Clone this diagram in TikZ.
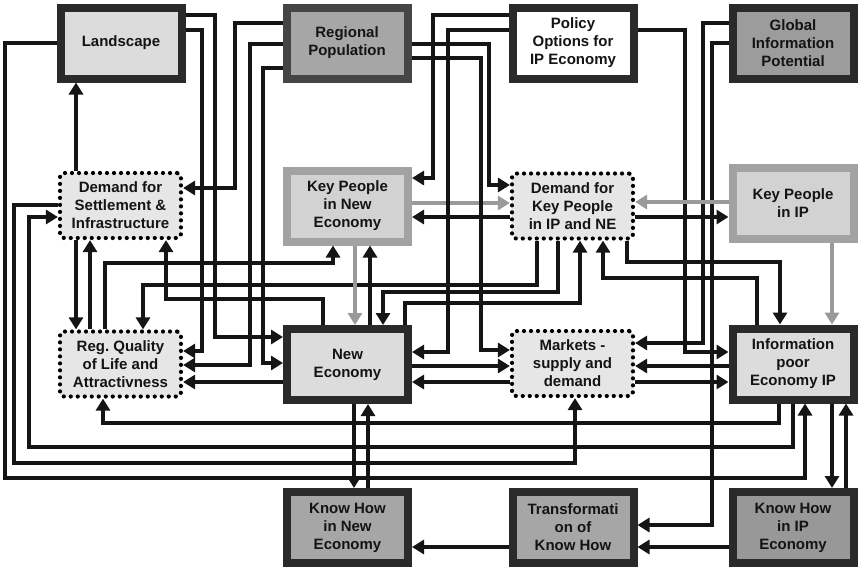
\documentclass[tikz,border=0pt]{standalone}
\usepackage{fontspec}
\setmainfont{Liberation Sans}
\usetikzlibrary{arrows.meta}
\definecolor{bdark}{HTML}{2A2A2A}
\definecolor{bpop}{HTML}{454545}
\definecolor{bkp}{HTML}{A2A2A2}
\definecolor{flight}{HTML}{DCDCDC}
\definecolor{fmid}{HTML}{A6A6A6}
\definecolor{fglob}{HTML}{9C9C9C}
\definecolor{fkh}{HTML}{989898}
\definecolor{fkp}{HTML}{D2D2D2}
\definecolor{fdot}{HTML}{E6E6E6}
\definecolor{lnk}{HTML}{151515}
\definecolor{glnk}{HTML}{9A9A9A}
\frenchspacing
\begin{document}
\begin{tikzpicture}[x=1pt,y={(0pt,-1pt)},
  txt/.style={align=center,font=\fontsize{15}{18}\selectfont\bfseries,text=black!92},
  solidbox/.style={txt,rectangle,draw=bdark,line width=8pt,minimum width=121pt,minimum height=71pt,inner sep=0pt},
  kpbox/.style={txt,rectangle,draw=bkp,fill=fkp,line width=8pt,minimum width=121pt,minimum height=71pt,inner sep=0pt},
  dotbox/.style={txt,rectangle,draw=black,fill=fdot,line width=4.2pt,dash pattern=on 0pt off 7pt,line cap=round,rounded corners=4pt,minimum width=121pt,minimum height=65pt,inner sep=0pt},
  arr/.style={draw=lnk,line width=3.4pt,-{Triangle[width=14pt,length=12pt]}},
  garr/.style={draw=glnk,line width=3.4pt,-{Triangle[width=14pt,length=12pt]}}]
\useasboundingbox (0,0) rectangle (859,571);
% nodes
\node[solidbox,fill=flight] (land) at (121,43) {Landscape};
\node[solidbox,draw=bpop,fill=fmid] (pop) at (347,43) {Regional\\Population};
\node[solidbox,fill=white] (pol) at (573,43) {Policy\\Options for\\IP Economy};
\node[solidbox,fill=fglob] (glob) at (793,43) {Global\\Information\\Potential};
\node[dotbox] (dset) at (120.5,205.5) {Demand for\\Settlement \&\\Infrastructure};
\node[kpbox] (kpne) at (347.5,206) {Key People\\in New\\Economy};
\node[dotbox] (dkp) at (572.5,206) {Demand for\\Key People\\in IP and NE};
\node[kpbox] (kpip) at (793,203) {Key People\\in IP};
\node[dotbox] (rql) at (120.5,364) {Reg. Quality\\of Life and\\Attractivness};
\node[solidbox,fill=flight] (ne) at (347.5,364.5) {New\\Economy};
\node[dotbox] (mkt) at (572.5,363.5) {Markets -\\supply and\\demand};
\node[solidbox,fill=flight] (ip) at (793,364) {Information\\poor\\Economy IP};
\node[solidbox,fill=fmid] (khne) at (347.5,527.5) {Know How\\in New\\Economy};
\node[solidbox,fill=fmid] (trans) at (573,527.5) {Transformati\\on of\\Know How};
\node[solidbox,fill=fkh] (khip) at (793,527.5) {Know How\\in IP\\Economy};
% connectors
\draw[arr] (dset.north -| 76,0) -- (land.south -| 76,0);
\draw[arr] (pop.west |- 0,23) -| (235,188) -- (dset.east |- 0,188);
\draw[arr] (land.east |- 0,15) -| (215,337) -- (ne.west |- 0,337);
\draw[arr] (land.east |- 0,30) -| (202,351) -- (rql.east |- 0,351);
\draw[arr] (pop.west |- 0,44) -| (250,365) -- (rql.east |- 0,365);
\draw[arr] (pop.west |- 0,68) -| (263,363) -- (ne.west |- 0,363);
\draw[arr] (ne.west |- 0,382) -- (rql.east |- 0,382);
\draw[arr] (dset.south -| 76,0) -- (rql.north -| 76,0);
\draw[arr] (rql.north -| 90,0) -- (dset.south -| 90,0);
\draw[arr] (ne.north -| 323,0) |- (166,299) -- (dset.south -| 166,0);
\draw[arr] (rql.north -| 105,0) |- (333,263) -- (kpne.south -| 333,0);
\draw[arr] (dkp.south -| 537,0) |- (143,285) -- (rql.north -| 143,0);
\draw[arr] (dkp.south -| 558,0) |- (383,292) -- (ne.north -| 383,0);
\draw[arr] (ne.north -| 405,0) |- (580,303) -- (dkp.south -| 580,0);
\draw[garr] (kpne.south -| 355,0) -- (ne.north -| 355,0);
\draw[arr] (ne.north -| 370,0) -- (kpne.south -| 370,0);
\draw[garr] (kpne.east |- 0,203) -- (dkp.west |- 0,203);
\draw[arr] (dkp.west |- 0,217) -- (kpne.east |- 0,217);
\draw[arr] (pol.west |- 0,15) -| (433,178) -- (kpne.east |- 0,178);
\draw[arr] (pol.west |- 0,30) -| (448,352) -- (ne.east |- 0,352);
\draw[arr] (pop.east |- 0,44) -| (489,185) -- (dkp.west |- 0,185);
\draw[arr] (pop.east |- 0,58) -| (481,350) -- (mkt.west |- 0,350);
\draw[arr] (ne.east |- 0,366) -- (mkt.west |- 0,366);
\draw[arr] (mkt.west |- 0,382) -- (ne.east |- 0,382);
\draw[arr] (pol.east |- 0,30) -| (685,352) -- (ip.west |- 0,352);
\draw[arr] (glob.west |- 0,23) -| (703,343) -- (mkt.east |- 0,343);
\draw[arr] (glob.west |- 0,43) -| (712,525) -- (trans.east |- 0,525);
\draw[garr] (kpip.west |- 0,202) -- (dkp.east |- 0,202);
\draw[arr] (dkp.east |- 0,217) -- (kpip.west |- 0,217);
\draw[garr] (kpip.south -| 832,0) -- (ip.north -| 832,0);
\draw[arr] (dkp.south -| 627,0) |- (780,262) -- (ip.north -| 780,0);
\draw[arr] (ip.north -| 757,0) |- (603,278) -- (dkp.south -| 603,0);
\draw[arr] (ip.west |- 0,366) -- (mkt.east |- 0,366);
\draw[arr] (mkt.east |- 0,382) -- (ip.west |- 0,382);
\draw[arr] (ip.south -| 779,0) |- (103,423) -- (rql.south -| 103,0);
\draw[arr] (ip.south -| 793,0) |- (29,447) |- (dset.west |- 0,217);
\draw[arr] (dset.west |- 0,205) -| (14,463) -| (mkt.south -| 575,0);
\draw[arr] (land.west |- 0,43) -| (5,478) -| (ip.south -| 805,0);
\draw[arr] (ne.south -| 354,0) -- (khne.north -| 354,0);
\draw[arr] (khne.north -| 368,0) -- (ne.south -| 368,0);
\draw[arr] (ip.south -| 832,0) -- (khip.north -| 832,0);
\draw[arr] (khip.north -| 846,0) -- (ip.south -| 846,0);
\draw[arr] (khip.west |- 0,547) -- (trans.east |- 0,547);
\draw[arr] (trans.west |- 0,547) -- (khne.east |- 0,547);
\end{tikzpicture}
\end{document}
